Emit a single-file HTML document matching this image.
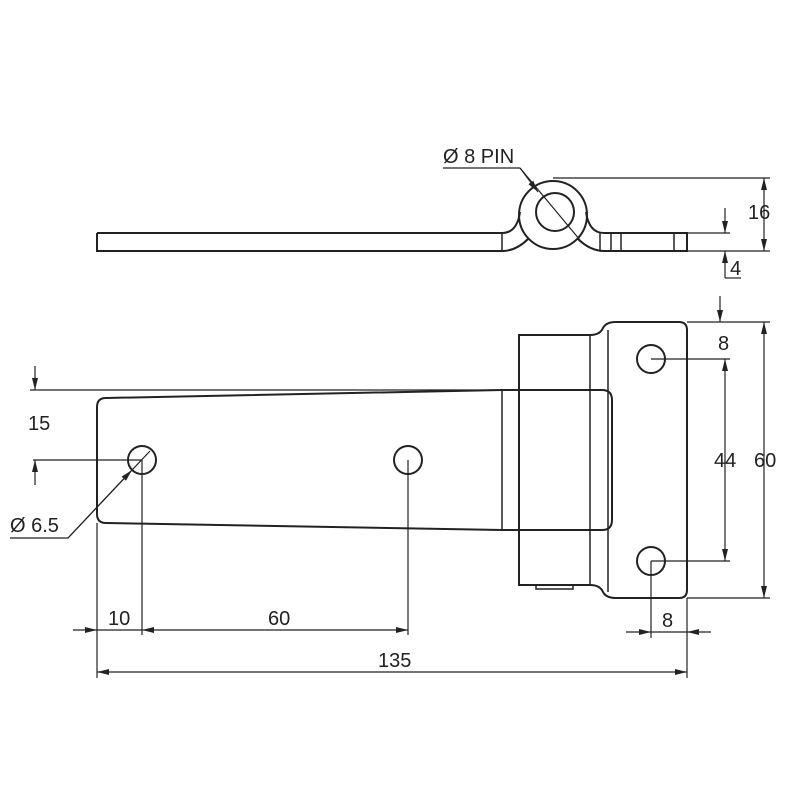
<!DOCTYPE html>
<html><head><meta charset="utf-8"><style>body{margin:0;background:#fff}svg{display:block}</style></head>
<body>
<svg width="801" height="800" viewBox="0 0 801 800" xmlns="http://www.w3.org/2000/svg" font-family="Liberation Sans, sans-serif" fill="none" stroke="#222">
<defs>
<marker id="a" viewBox="0 0 12 6" refX="12" refY="3" markerWidth="12" markerHeight="6" orient="auto-start-reverse" markerUnits="userSpaceOnUse"><path d="M0,0 L12,3 L0,6 Z" fill="#222" stroke="none"/></marker>
</defs>
<!-- TOP VIEW -->
<g stroke-width="2">
<path d="M97,233 H502 Q517,233 520,212"/>
<path d="M586,212 Q589,233 604,233 H687 V251 H604 Q590,251 577,238"/>
<path d="M97,233 V251 H502 Q516,251 528,239"/>
<circle cx="553" cy="215" r="34"/>
<circle cx="555" cy="212" r="19"/>
</g>
<g stroke-width="1.5">
<line x1="502" y1="233" x2="502" y2="251"/>
<line x1="600" y1="233" x2="600" y2="251"/>
<line x1="611" y1="233" x2="611" y2="251"/>
<line x1="621" y1="233" x2="621" y2="251"/>
<line x1="674" y1="233" x2="674" y2="251"/>
</g>
<g stroke-width="1.2">
<line x1="553" y1="178" x2="770" y2="178"/>
<line x1="687" y1="251" x2="770" y2="251"/>
<line x1="687" y1="233" x2="730" y2="233"/>
<line x1="764" y1="178" x2="764" y2="251" marker-start="url(#a)" marker-end="url(#a)"/>
<line x1="725" y1="208" x2="725" y2="233" marker-end="url(#a)"/>
<path d="M725,278 V251" marker-end="url(#a)"/>
<line x1="725" y1="278" x2="741" y2="278"/>
<line x1="443" y1="168" x2="520" y2="168"/>
<line x1="520" y1="168" x2="580" y2="240"/>
<line x1="520" y1="168" x2="538" y2="192" marker-end="url(#a)"/>
</g>
<g fill="#222" stroke="none" font-size="20">
<text x="443" y="163">Ø 8 PIN</text>
<text x="748" y="219">16</text>
<text x="730" y="275">4</text>
</g>
<!-- FRONT VIEW -->
<g stroke-width="2">
<path d="M519,335 H590 Q600,335 603,328 Q606,322 616,322 H679 Q687,322 687,330 V590 Q687,598 679,598 H616 Q606,598 603,592 Q600,585 590,585 H519 Z"/>
<path d="M106,398 L502,390 H602 Q612,390 612,400 V520 Q612,530 602,530 H502 L106,523 Q97,523 97,514 V407 Q97,398 106,398 Z"/>
<circle cx="651" cy="359" r="14"/>
<circle cx="651" cy="561" r="14"/>
<circle cx="142" cy="460" r="14"/>
<circle cx="408" cy="460" r="14"/>
</g>
<g stroke-width="1.5">
<line x1="502" y1="390" x2="502" y2="530"/>
<line x1="590" y1="335" x2="590" y2="585"/>
<line x1="608" y1="330" x2="608" y2="592"/>
<rect x="536" y="585" width="37" height="4"/>
</g>
<g stroke-width="1.2">
<line x1="687" y1="322" x2="770" y2="322"/>
<line x1="687" y1="598" x2="770" y2="598"/>
<line x1="764" y1="322" x2="764" y2="598" marker-start="url(#a)" marker-end="url(#a)"/>
<line x1="720" y1="296" x2="720" y2="322" marker-end="url(#a)"/>
<line x1="651" y1="359" x2="730" y2="359"/>
<line x1="651" y1="561" x2="730" y2="561"/>
<line x1="725" y1="359" x2="725" y2="561" marker-start="url(#a)" marker-end="url(#a)"/>
<line x1="651" y1="561" x2="651" y2="638"/>
<line x1="687" y1="598" x2="687" y2="678"/>
<line x1="626" y1="632" x2="651" y2="632" marker-end="url(#a)"/>
<line x1="711" y1="632" x2="687" y2="632" marker-end="url(#a)"/>
<line x1="651" y1="632" x2="687" y2="632"/>
<line x1="30" y1="390" x2="519" y2="390"/>
<line x1="35" y1="366" x2="35" y2="390" marker-end="url(#a)"/>
<line x1="33" y1="460" x2="142" y2="460"/>
<line x1="35" y1="485" x2="35" y2="460" marker-end="url(#a)"/>
<path d="M10,538 H68 L150,451"/>
<line x1="68" y1="538" x2="132" y2="470" marker-end="url(#a)"/>
<line x1="97" y1="523" x2="97" y2="678"/>
<line x1="142" y1="460" x2="142" y2="635"/>
<line x1="408" y1="460" x2="408" y2="635"/>
<line x1="73" y1="630" x2="97" y2="630" marker-end="url(#a)"/>
<line x1="97" y1="630" x2="142" y2="630"/>
<line x1="142" y1="630" x2="408" y2="630" marker-start="url(#a)" marker-end="url(#a)"/>
<line x1="97" y1="672" x2="687" y2="672" marker-start="url(#a)" marker-end="url(#a)"/>
</g>
<g fill="#222" stroke="none" font-size="20">
<text x="718" y="350">8</text>
<text x="714" y="467">44</text>
<text x="754" y="467">60</text>
<text x="662" y="627">8</text>
<text x="28" y="430">15</text>
<text x="10" y="532">Ø 6.5</text>
<text x="108" y="625">10</text>
<text x="268" y="625">60</text>
<text x="378" y="667">135</text>
</g>
</svg>
</body></html>
